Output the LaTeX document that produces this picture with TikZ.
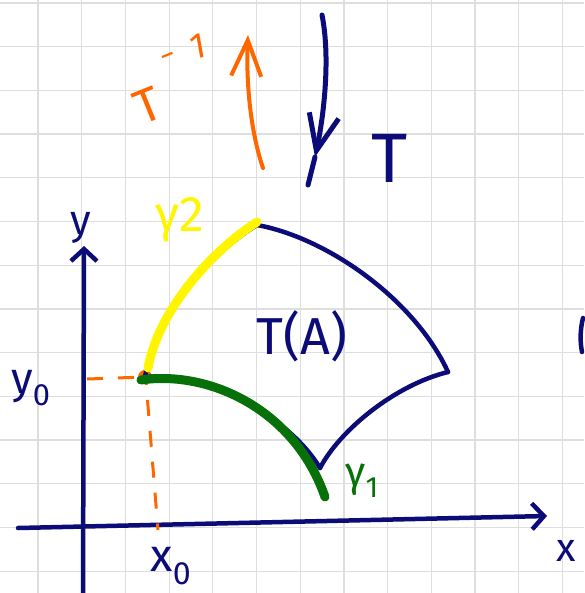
\documentclass[tikz,border=0pt]{standalone}
\usepackage{fontspec}
\setmainfont{Fira Sans}
\usetikzlibrary{arrows.meta}

\definecolor{penblue}{RGB}{12,12,120}
\definecolor{penorange}{RGB}{255,102,0}
\definecolor{penyellow}{RGB}{255,245,0}
\definecolor{pengreen}{RGB}{8,112,8}
\definecolor{gridgray}{RGB}{222,222,222}

\begin{document}
\begin{tikzpicture}[
x=1pt, y=-1pt,
every node/.style={inner sep=0pt},
hand/.style={font=\fontsize{#1}{#1}\selectfont},
pen/.style={line cap=round, line join=round},
axis/.style={pen, penblue, line width=4.5pt, -{Straight Barb[length=12pt,width=26pt]}},
boundary/.style={pen, penblue, line width=4.5pt},
helper/.style={penorange, line width=3pt, dash pattern=on 16pt off 15pt},
>={Straight Barb[length=36pt,width=30pt]}
]
\useasboundingbox (0,0) rectangle (584,593);

% squared paper
\foreach \k in {0,...,12}
  \draw[gridgray, line width=1.2pt] (38+43.7*\k,0) -- (38+43.7*\k,593);
\foreach \k in {0,...,13}
  \draw[gridgray, line width=1.2pt] (0,3+43.7*\k) -- (584,3+43.7*\k);

% axes
\coordinate (ybot) at (83,593);
\coordinate (ytop) at (84,246);
\coordinate (xleft) at (18,528);
\coordinate (xright) at (547,516);
\draw[axis] (ybot) -- (ytop);
\draw[axis] (xleft) -- (xright);

\node[hand=42, text=penblue] (ylab) at (81,228) {y};
\node[hand=40, text=penblue] (xlab) at (566,551) {x};

% starting point and its coordinates
\coordinate (start) at (145,377);
\coordinate (yzero) at (87,379);
\coordinate (xzero) at (158,530);
\draw[helper] (yzero) -- (start);
\draw[helper] ([yshift=8pt]start) -- (xzero);
\fill[penorange] (start) circle (7pt);

\node[hand=44, text=penblue] (y0lab) at (31,388) {y\textsubscript{0}};
\node[hand=46, text=penblue] (x0lab) at (171,566) {x\textsubscript{0}};

% the image T(A)
\coordinate (top) at (257,225);
\coordinate (right) at (448,372);
\coordinate (bottom) at (320,468);
\draw[boundary] (top) .. controls (328,238) and (415,300) .. (right);
\draw[boundary] (right) .. controls (395,385) and (340,430) .. (bottom);
\draw[boundary] (start) .. controls (155,318) and (208,255) .. (top);
\draw[boundary] (start) .. controls (205,372) and (288,415) .. (bottom);

% the two curves
\coordinate (g2end) at (257,222);
\coordinate (g1end) at (325,497);
\draw[pen, penyellow, line width=9pt] ([shift={(3,-9)}]start) .. controls (158,312) and (210,252) .. (g2end);
\draw[pen, pengreen, line width=9pt] ([shift={(-4,3)}]start) .. controls (210,370) and (295,410) .. (g1end);

\node[hand=52, text=penblue] (tofa) at (302,336) {T(A)};
\node[hand=50, text=penyellow] (g2lab) at (180,220) {γ2};
\node[hand=42, text=pengreen] (g1lab) at (362,481) {γ\textsubscript{1}};

% the maps
\coordinate (tfrom) at (322,15);
\coordinate (ttip) at (315,157);
\coordinate (tend) at (308,185);
\draw[pen, penblue, line width=5pt, ->] (tfrom) .. controls (331,60) and (323,120) .. (ttip);
\draw[pen, penblue, line width=5pt] (ttip) -- (tend);
\node[hand=70, text=penblue] (tlab) at (390,158) {T};

\coordinate (ifrom) at (263,168);
\coordinate (itip) at (248,35);
\draw[pen, penorange, line width=4pt, ->] (ifrom) .. controls (250,130) and (246,80) .. (itip);
\node[hand=48, text=penorange, rotate=22] (tinvlab) at (148,106) {T};
\node[hand=30, text=penorange, rotate=22] (tinvminus) at (169,60) {−};
\node[hand=36, text=penorange, rotate=10] (tinvone) at (198,46) {1};

% cut-off mark at the right edge
\draw[pen, penblue, line width=4.5pt] (583,318) .. controls (580,330) and (580,342) .. (582,352);

\end{tikzpicture}
\end{document}
